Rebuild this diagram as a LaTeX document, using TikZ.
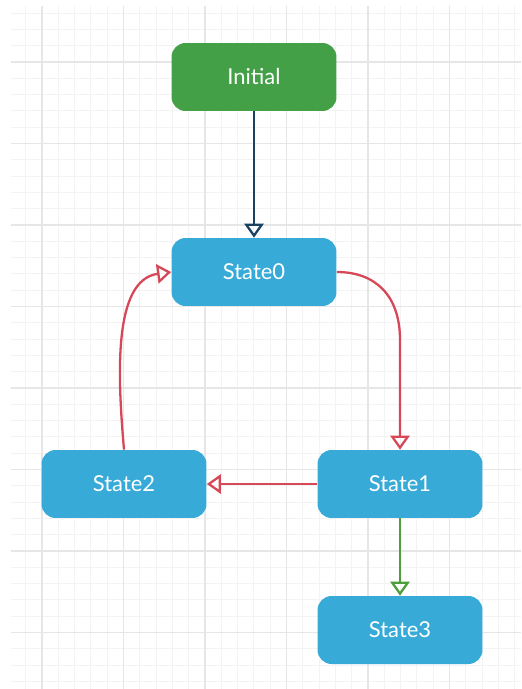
\documentclass[tikz,border=0pt]{standalone}
\usepackage{fontspec}
\setmainfont{Lato}
\usepackage{xcolor}
\usetikzlibrary{arrows.meta}

\definecolor{initgreen}{RGB}{67,160,71}
\definecolor{stateblue}{RGB}{55,170,216}
\definecolor{edgered}{RGB}{214,72,88}
\definecolor{edgenavy}{RGB}{24,66,98}
\definecolor{edgegreen}{RGB}{76,158,58}
\definecolor{gridminor}{RGB}{243,243,243}
\definecolor{gridmajor}{RGB}{230,230,230}

\tikzset{
  state/.style={rectangle, rounded corners=8pt, fill=stateblue, text=white,
    minimum width=3.3cm, minimum height=1.36cm, font=\fontsize{12.5}{14}\selectfont},
  initstate/.style={state, fill=initgreen},
  trans/.style={line width=1.3pt, -{Triangle[open, length=8pt, width=11pt, line width=1.3pt]}}
}

\begin{document}
\begin{tikzpicture}[x=0.02cm, y=-0.02cm]
    \useasboundingbox (0, 0) rectangle (521, 689);

    % grid
    \foreach \i in {0,...,30}
      \draw [gridminor, line width=0.5pt] (25.7 + 16.3*\i, 6) -- (25.7 + 16.3*\i, 689);
    \foreach \i in {0,...,41}
      \draw [gridminor, line width=0.5pt] (11, 13 + 16.3*\i) -- (521, 13 + 16.3*\i);
    \foreach \i in {0,...,5}
      \draw [gridmajor, line width=0.7pt] (42 + 81.5*\i, 6) -- (42 + 81.5*\i, 689);
    \foreach \i in {0,...,7}
      \draw [gridmajor, line width=0.7pt] (11, 62 + 81.5*\i) -- (521, 62 + 81.5*\i);

    % states
    \node[initstate](init) at (254, 77){Initial};
    \node[state](s0) at (254, 272){State0};
    \node[state](s1) at (400, 484){State1};
    \node[state](s2) at (124, 484){State2};
    \node[state](s3) at (400, 630){State3};

    % transitions
    \draw [trans, edgered] (s0.east) .. controls (375, 272) and (400, 295) .. (400, 340)
      -- (s1.north);
    \draw [trans, edgered] (s1.west) -- (s2.east);
    \draw [trans, edgered] (s2.north) .. controls (118, 380) and (112, 280) .. (s0.west);
    \draw [trans, edgenavy] (init.south) -- (s0.north);
    \draw [trans, edgegreen] (s1.south) -- (s3.north);
\end{tikzpicture}
\end{document}
